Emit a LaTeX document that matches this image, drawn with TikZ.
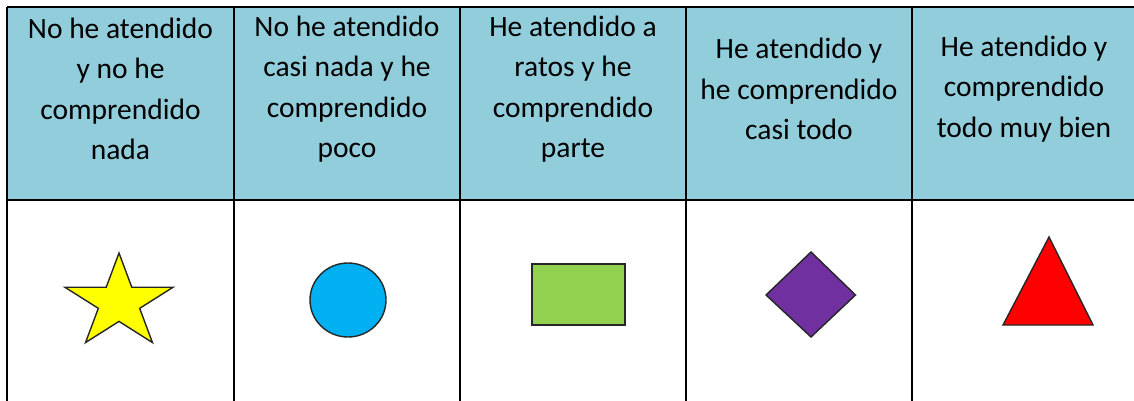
\documentclass[tikz,border=0pt]{standalone}
\usepackage{fontspec}
\setmainfont{Carlito}
\definecolor{headblue}{HTML}{92CDDC}
\definecolor{cyanfill}{HTML}{00B0F0}
\definecolor{greenfill}{HTML}{92D050}
\definecolor{purplefill}{HTML}{7030A0}
\definecolor{redfill}{HTML}{FF0000}
\definecolor{yellowfill}{HTML}{FFFF00}
\tikzset{
  headtext/.style={align=center, inner sep=0pt, font=\fontsize{29.5}{40.5}\selectfont, text=black},
  gridline/.style={line width=2.2pt, black},
  shapeline/.style={line width=1.4pt, draw={black!85}}
}
\begin{document}
\begin{tikzpicture}[x=1pt,y=-1pt]
\useasboundingbox (0,0) rectangle (1134,401);
\fill[white] (0,0) rectangle (1134,401);
% header background
\fill[headblue] (7,7) rectangle (1134,200);
% grid
\draw[gridline] (7,7) -- (1134,7);
\draw[gridline] (7,200) -- (1134,200);
\foreach \xx in {7,234,460,686,912} {
  \draw[gridline] (\xx,7) -- (\xx,401);
}
% header texts
\node[headtext] (h1) at (120.5,89) {No he atendido\\y no he\\comprendido\\nada};
\node[headtext] (h2) at (347,89) {No he atendido\\casi nada y he\\comprendido\\poco};
\node[headtext] (h3) at (573,89) {He atendido a\\ratos y he\\comprendido\\parte};
\node[headtext] (h4) at (799,89) {He atendido y\\he comprendido\\casi todo};
\node[headtext] (h5) at (1024,89) {He atendido y\\comprendido\\todo muy bien};
% star
\begin{scope}[shift={(119,302.5)}, xscale=1.15, yscale=-1]
  \draw[shapeline, fill=yellowfill]
    (90:49.5) -- (126:18.9) -- (162:49.5) -- (198:18.9) -- (234:49.5) -- (270:18.9)
    -- (306:49.5) -- (342:18.9) -- (18:49.5) -- (54:18.9) -- cycle;
\end{scope}
% circle
\draw[shapeline, fill=cyanfill] (348,300) ellipse [x radius=38, y radius=37];
% rectangle
\draw[shapeline, fill=greenfill] (532,264) rectangle (625,325);
% diamond
\draw[shapeline, fill=purplefill] (811,252) -- (855.5,295) -- (811,337) -- (766,295) -- cycle;
% triangle
\draw[shapeline, fill=redfill] (1049,237) -- (1093,325) -- (1003,325) -- cycle;
\end{tikzpicture}
\end{document}
